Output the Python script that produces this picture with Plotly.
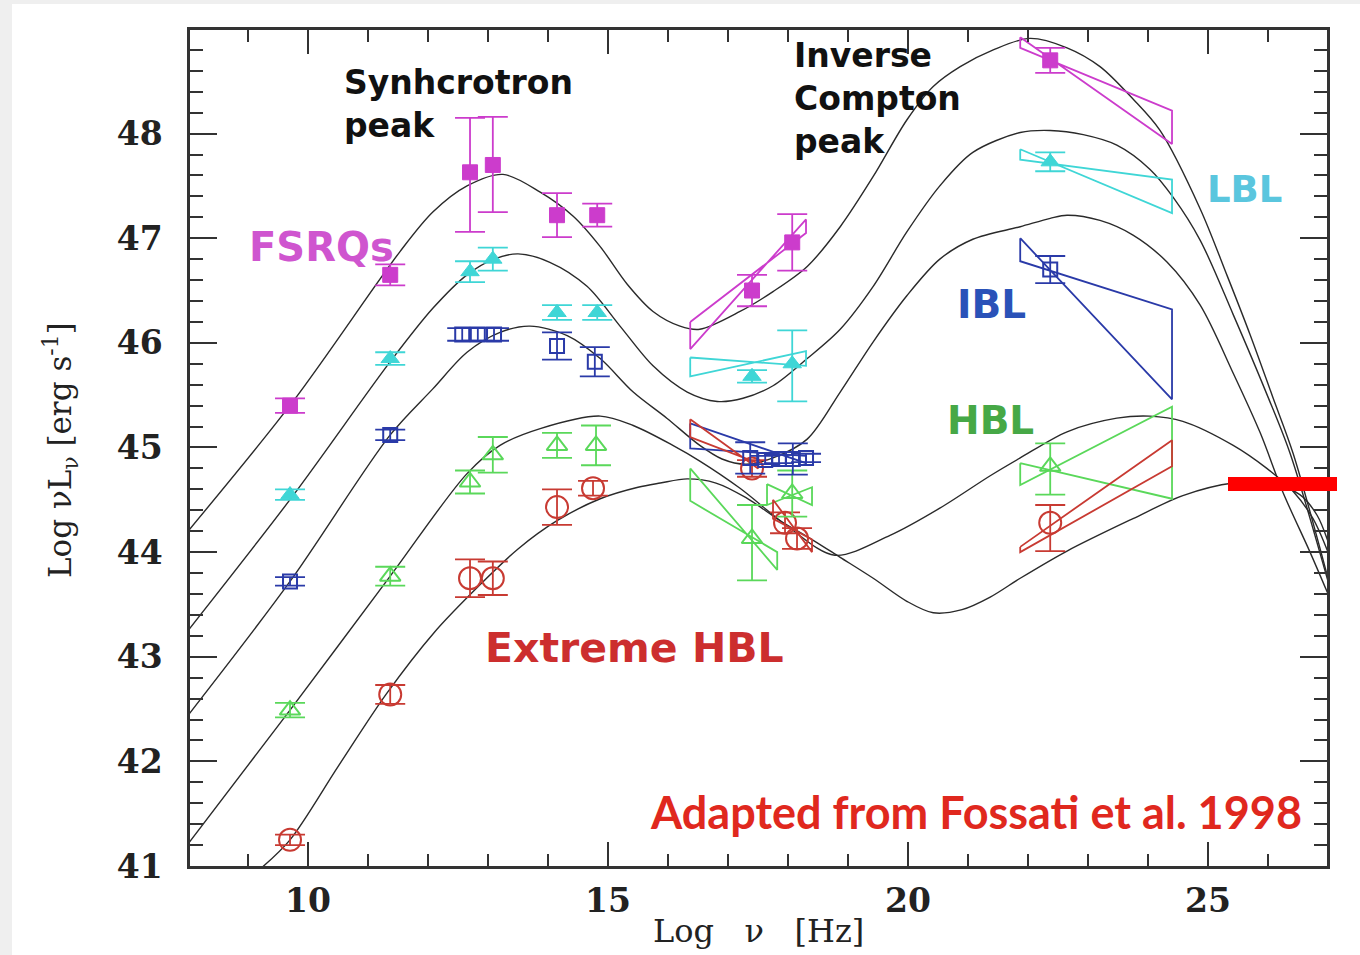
import plotly.graph_objects as go

# ---------------- axes ----------------
X_RANGE = [8.033, 26.983]
Y_RANGE = [41.0, 48.99]
X_TICKS = [10, 15, 20, 25]
Y_TICKS = [41, 42, 43, 44, 45, 46, 47, 48]

# ---------------- SED model curves ----------------
fsrq_curve_x = [8.0, 9.75, 11.53, 12.08, 12.65, 13.25, 13.87, 14.42, 14.87, 15.32, 15.75, 16.2, 16.53,
                17.2, 17.75, 18.32, 18.87, 19.42, 19.98, 20.42, 20.87, 21.42, 22.03, 22.65, 23.2,
                23.75, 24.2, 24.87, 25.32, 25.7, 26.08, 26.42, 27.0]
fsrq_curve_y = [44.20, 45.44, 46.87, 47.25, 47.50, 47.61, 47.44, 47.21, 46.92, 46.56, 46.30, 46.16, 46.13,
                46.30, 46.49, 46.73, 47.11, 47.59, 48.13, 48.45, 48.64, 48.80, 48.91, 48.82, 48.64,
                48.33, 48.03, 47.28, 46.64, 46.08, 45.48, 44.94, 43.75]

lbl_curve_x = [8.0, 9.75, 11.37, 12.08, 12.65, 13.1, 13.5, 14.03, 14.65, 15.2, 15.75, 16.32, 16.82,
               17.25, 17.75, 18.32, 18.87, 19.42, 19.98, 20.53, 21.08, 21.87, 22.37, 22.92, 23.48,
               24.03, 24.42, 24.87, 25.42, 25.98, 26.37, 27.0]
lbl_curve_y = [43.25, 44.54, 45.82, 46.33, 46.65, 46.80, 46.85, 46.77, 46.54, 46.16, 45.78, 45.53, 45.44,
               45.47, 45.59, 45.85, 46.13, 46.54, 47.06, 47.50, 47.82, 48.01, 48.03, 47.99, 47.89,
               47.66, 47.39, 46.98, 46.27, 45.51, 44.94, 43.72]

ibl_curve_x = [8.0, 9.7, 11.37, 12.08, 12.65, 13.2, 13.7, 14.32, 14.87, 15.42, 15.98, 16.53, 16.9,
               17.3, 17.75, 18.32, 18.87, 19.42, 19.98, 20.53, 21.08, 21.87, 22.37, 22.65, 23.2,
               23.75, 24.32, 24.87, 25.42, 25.87, 26.25, 26.7, 27.0]
ibl_curve_y = [42.44, 43.72, 45.12, 45.56, 45.91, 46.10, 46.16, 46.07, 45.85, 45.53, 45.28, 45.02, 44.89,
               44.84, 44.90, 45.08, 45.53, 46.01, 46.45, 46.80, 46.99, 47.11, 47.19, 47.22, 47.17,
               47.03, 46.77, 46.36, 45.71, 45.14, 44.57, 44.00, 43.60]

hbl_curve_x = [8.0, 9.7, 11.37, 12.65, 13.2, 13.87, 14.87, 15.42, 16.08, 16.53, 17.2, 18.03, 18.78,
               19.7, 20.53, 21.37, 21.87, 22.65, 23.48, 24.03, 24.58, 25.42, 25.98, 26.42, 26.75, 27.0]
hbl_curve_y = [41.21, 42.49, 43.77, 44.75, 45.02, 45.18, 45.30, 45.21, 45.02, 44.87, 44.61, 44.23, 43.97,
               44.16, 44.42, 44.73, 44.90, 45.15, 45.28, 45.30, 45.25, 45.02, 44.80, 44.58, 44.32, 44.00]

ehbl_curve_x = [9.2, 9.7, 10.5, 11.3, 12.1, 12.87, 13.5, 14.15, 14.87, 15.5, 15.87, 16.32, 16.8, 17.3,
                17.87, 18.4, 18.87, 19.42, 19.98, 20.42, 20.9, 21.37, 21.87, 22.65, 23.75, 24.58,
                25.42, 26.03, 26.53, 26.82, 27.0]
ehbl_curve_y = [40.97, 41.25, 41.95, 42.64, 43.23, 43.69, 44.03, 44.30, 44.51, 44.62, 44.66, 44.70, 44.66,
                44.52, 44.30, 44.12, 43.95, 43.75, 43.53, 43.42, 43.45, 43.57, 43.75, 44.01, 44.32,
                44.54, 44.66, 44.66, 44.55, 44.35, 44.10]

# ---------------- averaged data points ----------------
fsrq_x = [9.70, 11.37, 12.70, 13.08, 14.15, 14.82, 17.40, 18.07, 22.37]
fsrq_y = [45.40, 46.65, 47.63, 47.70, 47.22, 47.22, 46.50, 46.96, 48.70]
fsrq_up = [0.07, 0.10, 0.52, 0.46, 0.21, 0.11, 0.15, 0.27, 0.12]
fsrq_dn = [0.07, 0.10, 0.57, 0.45, 0.21, 0.11, 0.15, 0.27, 0.12]

lbl_x = [9.70, 11.37, 12.70, 13.08, 14.15, 14.82, 17.40, 18.07, 22.37]
lbl_y = [44.55, 45.85, 46.68, 46.80, 46.29, 46.29, 45.68, 45.80, 47.73]
lbl_up = [0.05, 0.06, 0.10, 0.11, 0.07, 0.07, 0.06, 0.32, 0.09]
lbl_dn = [0.05, 0.06, 0.10, 0.11, 0.07, 0.07, 0.06, 0.36, 0.09]

ibl_x = [9.70, 11.37, 12.57, 12.83, 13.10, 14.15, 14.78, 17.37, 17.62, 17.85, 18.08, 18.30, 22.37]
ibl_y = [43.72, 45.12, 46.08, 46.08, 46.08, 45.97, 45.82, 44.90, 44.88, 44.89, 44.89, 44.90, 46.70]
ibl_up = [0.04, 0.05, 0.06, 0.06, 0.06, 0.13, 0.14, 0.15, 0.04, 0.04, 0.15, 0.04, 0.13]
ibl_dn = [0.04, 0.05, 0.06, 0.06, 0.06, 0.13, 0.14, 0.15, 0.04, 0.04, 0.15, 0.04, 0.13]

hbl_x = [9.70, 11.37, 12.70, 13.08, 14.15, 14.80, 17.40, 18.07, 22.37]
hbl_y = [42.49, 43.77, 44.67, 44.93, 45.02, 45.02, 44.13, 44.56, 44.82]
hbl_up = [0.07, 0.09, 0.11, 0.17, 0.12, 0.19, 0.32, 0.22, 0.22]
hbl_dn = [0.07, 0.09, 0.11, 0.17, 0.12, 0.19, 0.40, 0.22, 0.27]

ehbl_x = [9.70, 11.37, 12.70, 13.08, 14.15, 14.75, 17.40, 17.95, 18.15, 22.37]
ehbl_y = [41.25, 42.64, 43.75, 43.75, 44.43, 44.61, 44.80, 44.28, 44.13, 44.28]
ehbl_up = [0.05, 0.09, 0.18, 0.16, 0.17, 0.07, 0.08, 0.10, 0.10, 0.17]
ehbl_dn = [0.05, 0.09, 0.18, 0.16, 0.17, 0.07, 0.08, 0.10, 0.10, 0.27]

# ---------------- bow-ties (x0, x1, lineA y0/y1, lineB y0/y1) ----------------
fsrq_bt_x0 = [16.37, 21.87]
fsrq_bt_x1 = [18.30, 24.40]
fsrq_bt_a0 = [46.20, 48.92]
fsrq_bt_a1 = [47.05, 47.90]
fsrq_bt_b0 = [45.94, 48.82]
fsrq_bt_b1 = [47.18, 48.22]

lbl_bt_x0 = [16.37, 21.87]
lbl_bt_x1 = [18.30, 24.40]
lbl_bt_a0 = [45.86, 47.85]
lbl_bt_a1 = [45.78, 47.24]
lbl_bt_b0 = [45.68, 47.75]
lbl_bt_b1 = [45.92, 47.56]

ibl_bt_x0 = [16.37, 21.87]
ibl_bt_x1 = [18.30, 24.40]
ibl_bt_a0 = [45.23, 47.00]
ibl_bt_a1 = [44.85, 45.46]
ibl_bt_b0 = [44.99, 46.78]
ibl_bt_b1 = [44.92, 46.32]

hbl_bt_x0 = [16.37, 17.65, 21.87]
hbl_bt_x1 = [17.82, 18.40, 24.40]
hbl_bt_a0 = [44.80, 44.65, 44.85]
hbl_bt_a1 = [43.83, 44.45, 44.51]
hbl_bt_b0 = [44.49, 44.45, 44.64]
hbl_bt_b1 = [44.00, 44.62, 45.39]

ehbl_bt_x0 = [16.37, 17.75, 21.87]
ehbl_bt_x1 = [17.50, 18.40, 24.40]
ehbl_bt_a0 = [45.27, 44.50, 44.05]
ehbl_bt_a1 = [44.80, 44.00, 45.07]
ehbl_bt_b0 = [45.10, 44.32, 44.00]
ehbl_bt_b1 = [44.85, 44.12, 44.82]

# ---------------- styles ----------------
FSRQ_C, FSRQ_T = "#cc3ccc", "#cf55cf"
LBL_C, LBL_T = "#3fd6d6", "#5ac6de"
IBL_C, IBL_T = "#2a3aa8", "#2a52b8"
HBL_C, HBL_T = "#5ad85a", "#46a846"
EHBL_C, EHBL_T = "#c83a32", "#cc2e2e"
CURVE_C = "#2a2a2a"
AXIS_C = "#333333"

fig = go.Figure()

# model curves
for cx, cy in [(fsrq_curve_x, fsrq_curve_y), (lbl_curve_x, lbl_curve_y), (ibl_curve_x, ibl_curve_y),
               (hbl_curve_x, hbl_curve_y), (ehbl_curve_x, ehbl_curve_y)]:
    fig.add_trace(go.Scatter(x=cx, y=cy, mode="lines",
                             line=dict(color=CURVE_C, width=1.4, shape="spline", smoothing=0.9),
                             hoverinfo="skip"))


def add_bowties(x0s, x1s, a0s, a1s, b0s, b1s, color):
    for x0, x1, a0, a1, b0, b1 in zip(x0s, x1s, a0s, a1s, b0s, b1s):
        fig.add_trace(go.Scatter(x=[x0, x1, x1, x0, x0], y=[a0, a1, b1, b0, a0], mode="lines",
                                 line=dict(color=color, width=1.8), hoverinfo="skip"))


add_bowties(fsrq_bt_x0, fsrq_bt_x1, fsrq_bt_a0, fsrq_bt_a1, fsrq_bt_b0, fsrq_bt_b1, FSRQ_C)
add_bowties(lbl_bt_x0, lbl_bt_x1, lbl_bt_a0, lbl_bt_a1, lbl_bt_b0, lbl_bt_b1, LBL_C)
add_bowties(ibl_bt_x0, ibl_bt_x1, ibl_bt_a0, ibl_bt_a1, ibl_bt_b0, ibl_bt_b1, IBL_C)
add_bowties(hbl_bt_x0, hbl_bt_x1, hbl_bt_a0, hbl_bt_a1, hbl_bt_b0, hbl_bt_b1, HBL_C)
add_bowties(ehbl_bt_x0, ehbl_bt_x1, ehbl_bt_a0, ehbl_bt_a1, ehbl_bt_b0, ehbl_bt_b1, EHBL_C)


def add_points(xs, ys, up, dn, color, symbol, size, line_w):
    fig.add_trace(go.Scatter(
        x=xs, y=ys, mode="markers",
        marker=dict(symbol=symbol, size=size, color=color, line=dict(color=color, width=line_w)),
        error_y=dict(type="data", symmetric=False, array=up, arrayminus=dn,
                     color=color, thickness=1.8, width=15),
        hoverinfo="skip"))


add_points(ehbl_x, ehbl_y, ehbl_up, ehbl_dn, EHBL_C, "circle-open", 22, 2)
add_points(hbl_x, hbl_y, hbl_up, hbl_dn, HBL_C, "triangle-up-open", 18, 2)
add_points(ibl_x, ibl_y, ibl_up, ibl_dn, IBL_C, "square-open", 14, 2)
add_points(lbl_x, lbl_y, lbl_up, lbl_dn, LBL_C, "triangle-up", 16, 1)
add_points(fsrq_x, fsrq_y, fsrq_up, fsrq_dn, FSRQ_C, "square", 15, 1)

# ---------------- pixel helpers for decorations ----------------
ML, MR, MT, MB = 190, 33, 30, 89
W, H = 1360, 955
PW, PH = W - ML - MR, H - MT - MB


def px_x(p):
    return (p - ML) / PW


def px_y(p):
    return (H - MB - p) / PH


shapes = [
    # light grey frame of the original image
    dict(type="rect", xref="paper", yref="paper", x0=px_x(0), x1=px_x(12), y0=px_y(H), y1=px_y(0),
         fillcolor="#efefef", line=dict(width=0), layer="below"),
    dict(type="rect", xref="paper", yref="paper", x0=px_x(0), x1=px_x(W), y0=px_y(4), y1=px_y(0),
         fillcolor="#efefef", line=dict(width=0), layer="below"),
    # red marker bar
    dict(type="rect", xref="paper", yref="paper", x0=px_x(1228), x1=px_x(1337), y0=px_y(491), y1=px_y(477),
         fillcolor="#ff0000", line=dict(width=0), layer="above"),
]

LABEL_FONT = "DejaVu Sans"
annotations = [
    dict(x=10.567, y=48.281, text="<b>Synhcrotron<br>peak</b>", align="left",
         font=dict(family=LABEL_FONT, size=33, color="#111111")),
    dict(x=18.067, y=48.333, text="<b>Inverse<br>Compton<br>peak</b>", align="left",
         font=dict(family=LABEL_FONT, size=33, color="#111111")),
    dict(x=8.983, y=46.914, text="<b>FSRQs</b>", font=dict(family=LABEL_FONT, size=40, color=FSRQ_T)),
    dict(x=24.95, y=47.467, text="<b>LBL</b>", font=dict(family=LABEL_FONT, size=37, color=LBL_T)),
    dict(x=20.783, y=46.371, text="<b>IBL</b>", font=dict(family=LABEL_FONT, size=39, color=IBL_T)),
    dict(x=20.617, y=45.257, text="<b>HBL</b>", font=dict(family=LABEL_FONT, size=39, color=HBL_T)),
    dict(x=12.917, y=43.086, text="<b>Extreme HBL</b>", font=dict(family=LABEL_FONT, size=41, color=EHBL_T)),
    dict(x=15.667, y=41.514, text="<b>Adapted from Fossati et al. 1998</b>",
         font=dict(family="Lato", size=45, color="#e0281e")),
]
for a in annotations:
    a.update(xref="x", yref="y", xanchor="left", yanchor="middle", showarrow=False)

# axis titles
annotations.append(dict(xref="paper", yref="paper", x=px_x(758), y=px_y(931), xanchor="center",
                        yanchor="middle", showarrow=False,
                        text="Log\u00a0\u00a0\u00a0\u03bd\u00a0\u00a0\u00a0[Hz]",
                        font=dict(family="DejaVu Serif", size=32, color="#222222")))
annotations.append(dict(xref="paper", yref="paper", x=px_x(60), y=px_y(450), xanchor="center",
                        yanchor="middle", showarrow=False, textangle=-90,
                        text="Log \u03bdL<sub>\u03bd</sub> [erg s<sup>-1</sup>]",
                        font=dict(family="DejaVu Serif", size=31, color="#222222")))

TICK_FONT = dict(family="DejaVu Serif", size=33, color="#222222", weight="bold")
fig.update_layout(
    width=W, height=H, margin=dict(l=ML, r=MR, t=MT, b=MB),
    plot_bgcolor="white", paper_bgcolor="white", showlegend=False,
    shapes=shapes, annotations=annotations,
    xaxis=dict(range=X_RANGE, tickvals=X_TICKS, ticks="inside", ticklen=24, tickwidth=2,
               tickcolor=AXIS_C, showline=True, linewidth=2.5, linecolor=AXIS_C, mirror="allticks",
               showgrid=False, zeroline=False, tickfont=TICK_FONT, ticklabelstandoff=4,
               minor=dict(dtick=1, tick0=0, ticks="inside", ticklen=12, tickwidth=1.6, tickcolor=AXIS_C,
                          showgrid=False)),
    yaxis=dict(range=Y_RANGE, tickvals=Y_TICKS, ticks="inside", ticklen=27, tickwidth=2,
               tickcolor=AXIS_C, showline=True, linewidth=2.5, linecolor=AXIS_C, mirror="allticks",
               showgrid=False, zeroline=False, tickfont=TICK_FONT, ticklabelstandoff=18,
               minor=dict(dtick=0.2, tick0=0, ticks="inside", ticklen=13, tickwidth=1.6, tickcolor=AXIS_C,
                          showgrid=False)),
)

fig.write_html("out.html", config={"displayModeBar": False},
               post_script="document.body.style.margin='0px';")
